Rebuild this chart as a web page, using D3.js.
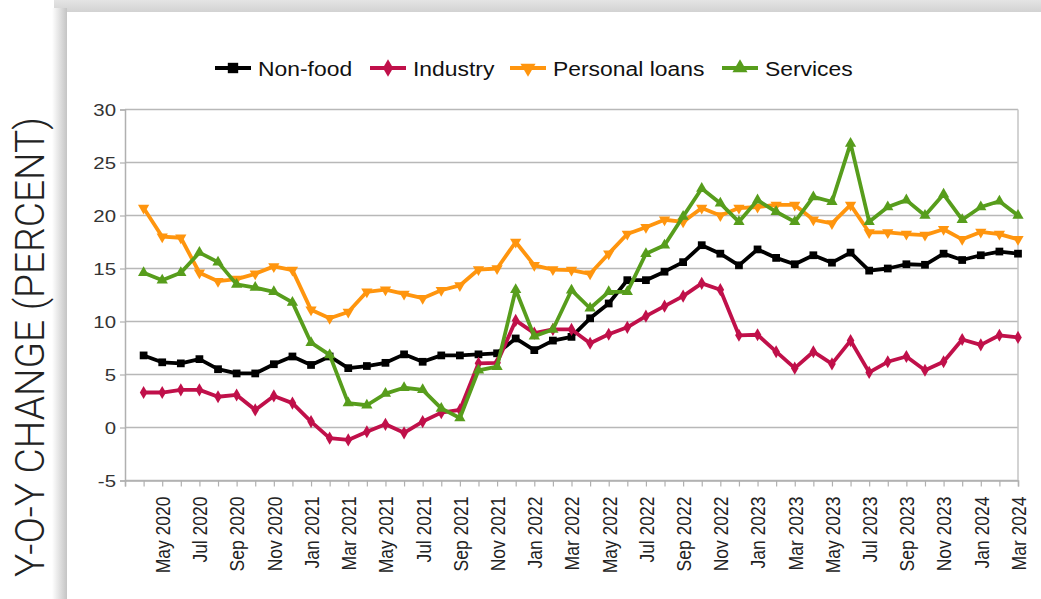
<!DOCTYPE html>
<html>
<head>
<meta charset="utf-8">
<script src="https://cdn.jsdelivr.net/npm/d3@7"></script>
<style>
  body { margin: 0; background: #fff; }
  svg { display: block; font-family: "Liberation Sans", Arial, sans-serif; }
</style>
</head>
<body>
<div id="chart"></div>
<script>
// months on the x axis (Apr 2020 .. Mar 2024)
const months = [
  "Apr 2020","May 2020","Jun 2020","Jul 2020","Aug 2020","Sep 2020","Oct 2020","Nov 2020","Dec 2020","Jan 2021","Feb 2021","Mar 2021",
  "Apr 2021","May 2021","Jun 2021","Jul 2021","Aug 2021","Sep 2021","Oct 2021","Nov 2021","Dec 2021","Jan 2022","Feb 2022","Mar 2022",
  "Apr 2022","May 2022","Jun 2022","Jul 2022","Aug 2022","Sep 2022","Oct 2022","Nov 2022","Dec 2022","Jan 2023","Feb 2023","Mar 2023",
  "Apr 2023","May 2023","Jun 2023","Jul 2023","Aug 2023","Sep 2023","Oct 2023","Nov 2023","Dec 2023","Jan 2024","Feb 2024","Mar 2024"
];

const nonFood = [6.8,6.15,6.05,6.45,5.5,5.1,5.1,5.97,6.7,5.9,6.7,5.6,
  5.8,6.1,6.9,6.2,6.8,6.8,6.9,7.0,8.4,7.3,8.2,8.55,
  10.3,11.7,13.9,13.9,14.7,15.6,17.2,16.4,15.3,16.8,16.0,15.4,
  16.25,15.55,16.5,14.8,15.0,15.4,15.35,16.4,15.8,16.25,16.6,16.4];

const industry = [3.3,3.3,3.55,3.55,2.9,3.07,1.66,2.98,2.3,0.56,-1.0,-1.17,
  -0.4,0.3,-0.5,0.56,1.4,1.66,6.05,6.1,10.1,8.9,9.25,9.25,
  7.95,8.8,9.45,10.5,11.45,12.4,13.6,13.0,8.7,8.75,7.15,5.6,
  7.15,6.0,8.2,5.2,6.2,6.7,5.4,6.2,8.3,7.8,8.7,8.5];

const personalLoans = [20.7,18.0,17.9,14.6,13.8,14.0,14.5,15.2,14.85,11.1,10.3,10.9,
  12.8,13.0,12.6,12.2,12.95,13.4,14.9,15.0,17.5,15.3,14.9,14.85,
  14.5,16.4,18.25,18.9,19.6,19.4,20.7,20.0,20.7,20.8,21.0,21.0,
  19.6,19.25,21.0,18.4,18.4,18.25,18.15,18.7,17.75,18.45,18.25,17.75];

const services = [14.6,13.9,14.6,16.5,15.6,13.5,13.2,12.8,11.8,8.0,6.85,2.3,
  2.1,3.2,3.75,3.55,1.8,0.9,5.4,5.74,13.0,8.6,9.25,12.95,
  11.25,12.8,12.8,16.4,17.2,19.9,22.55,21.15,19.4,21.45,20.35,19.4,
  21.75,21.3,26.8,19.4,20.8,21.45,20.0,22.0,19.6,20.8,21.35,20.0];

const seriesNames = ["Non-food", "Industry", "Personal loans", "Services"];
const yTicks = [-5, 0, 5, 10, 15, 20, 25, 30];

const width = 1041;
const height = 599;

const series = [
  { name: seriesNames[0], values: nonFood, color: "#000000", symbol: d3.symbolSquare, size: 60, rot: 0 },
  { name: seriesNames[1], values: industry, color: "#c0104a", symbol: d3.symbolDiamond, size: 50, rot: 0 },
  { name: seriesNames[2], values: personalLoans, color: "#ff950e", symbol: d3.symbolTriangle, size: 55, rot: 180 },
  { name: seriesNames[3], values: services, color: "#579d1c", symbol: d3.symbolTriangle, size: 55, rot: 0 }
];

const svg = d3.select("#chart")
  .append("svg")
  .attr("width", width)
  .attr("height", height);

// card + shadow
const defs = svg.append("defs");
const gTop = defs.append("linearGradient").attr("id", "shTop").attr("x1", 0).attr("y1", 0).attr("x2", 0).attr("y2", 1);
gTop.append("stop").attr("offset", "0%").attr("stop-color", "#e4e4e4");
gTop.append("stop").attr("offset", "100%").attr("stop-color", "#d2d2d2");
const gLeft = defs.append("linearGradient").attr("id", "shLeft").attr("x1", 0).attr("y1", 0).attr("x2", 1).attr("y2", 0);
gLeft.append("stop").attr("offset", "0%").attr("stop-color", "#ffffff");
gLeft.append("stop").attr("offset", "100%").attr("stop-color", "#c4c4c4");

svg.append("rect").attr("x", 54).attr("y", 0).attr("width", width - 54).attr("height", 12).attr("fill", "url(#shTop)");
svg.append("rect").attr("x", 52).attr("y", 8).attr("width", 15).attr("height", height).attr("fill", "url(#shLeft)");
svg.append("rect").attr("x", 67).attr("y", 12).attr("width", width - 67).attr("height", height).attr("fill", "#fff");

// scales
const x = d3.scaleLinear().domain([-1, months.length - 1]).range([125, 1018]);
const y = d3.scaleLinear().domain([-5, 30]).range([480.5, 109.5]);

// grid
svg.append("g")
  .selectAll("line")
  .data(yTicks)
  .join("line")
  .attr("x1", x(-1)).attr("x2", x(months.length - 1))
  .attr("y1", d => y(d)).attr("y2", d => y(d))
  .attr("stroke", "#b8b8b8")
  .attr("stroke-width", 1.5);

// right frame
svg.append("line")
  .attr("x1", x(months.length - 1)).attr("x2", x(months.length - 1))
  .attr("y1", y(30)).attr("y2", y(-5))
  .attr("stroke", "#c4c4c4").attr("stroke-width", 1.5);

// y axis
const yAxis = svg.append("g")
  .attr("transform", `translate(${x(-1)},0)`)
  .call(d3.axisLeft(y).tickValues(yTicks).tickSize(5).tickPadding(6).tickFormat(d => String(d)));
yAxis.select(".domain").attr("stroke", "#b0b0b0").attr("stroke-width", 1.5);
yAxis.selectAll(".tick line").attr("stroke", "#b0b0b0").attr("stroke-width", 1.2);
yAxis.selectAll(".tick text")
  .attr("font-size", 17)
  .attr("fill", "#333")
  .attr("dy", "0.36em")
  .attr("x", 0)
  .attr("transform", "translate(-9,0) scale(1.2,1)");

// x axis
const xAxis = svg.append("g")
  .attr("transform", `translate(0,${y(-5)})`)
  .call(d3.axisBottom(x)
    .tickValues(d3.range(-1, months.length))
    .tickSize(6)
    .tickFormat(i => (i >= 0 && i % 2 === 1) ? months[i] : ""));
xAxis.select(".domain").attr("stroke", "#b0b0b0").attr("stroke-width", 1.5);
xAxis.selectAll(".tick line").attr("stroke", "#b0b0b0").attr("stroke-width", 1.2);
xAxis.selectAll(".tick text")
  .attr("font-size", 17.5)
  .attr("fill", "#222")
  .attr("text-anchor", "end")
  .attr("x", 0).attr("y", 0).attr("dy", "0.36em")
  .attr("transform", "translate(0,16) scale(1.17,1) rotate(-90)");

// lines
const line = d3.line()
  .x((d, i) => x(i))
  .y(d => y(d));

const sg = svg.append("g")
  .selectAll("g")
  .data(series)
  .join("g");

sg.append("path")
  .attr("d", d => line(d.values))
  .attr("fill", "none")
  .attr("stroke", d => d.color)
  .attr("stroke-width", 3.8)
  .attr("stroke-linejoin", "round");

sg.each(function(s) {
  d3.select(this).selectAll("path.mk")
    .data(s.values)
    .join("path")
    .attr("class", "mk")
    .attr("d", d3.symbol().type(s.symbol).size(s.size))
    .attr("fill", s.color)
    .attr("transform", (d, i) => `translate(${x(i)},${y(d)}) rotate(${s.rot})`);
});

// legend
const legendX = [215, 370, 510, 722];
const lg = svg.append("g")
  .selectAll("g")
  .data(series)
  .join("g")
  .attr("transform", (d, i) => `translate(${legendX[i]},68)`);
lg.append("line")
  .attr("x1", 0).attr("x2", 36)
  .attr("stroke", d => d.color)
  .attr("stroke-width", 4);
lg.append("path")
  .attr("d", d => d3.symbol().type(d.symbol).size(d.size * 1.8)())
  .attr("fill", d => d.color)
  .attr("transform", d => `translate(18,0) rotate(${d.rot})`);
lg.append("text")
  .attr("x", 0)
  .attr("dy", "0.36em")
  .attr("font-size", 21)
  .attr("fill", "#111")
  .attr("transform", "translate(43,0) scale(1.09,1)")
  .text(d => d.name);

// y title
svg.append("text")
  .attr("transform", "translate(44,347) rotate(-90)")
  .attr("text-anchor", "middle")
  .attr("font-family", "Roboto, 'DejaVu Sans', sans-serif")
  .attr("font-weight", 300)
  .attr("font-size", 40)
  .attr("fill", "#222")
  .attr("textLength", 460)
  .attr("lengthAdjust", "spacingAndGlyphs")
  .text("Y-O-Y CHANGE (PERCENT)");
</script>
</body>
</html>
